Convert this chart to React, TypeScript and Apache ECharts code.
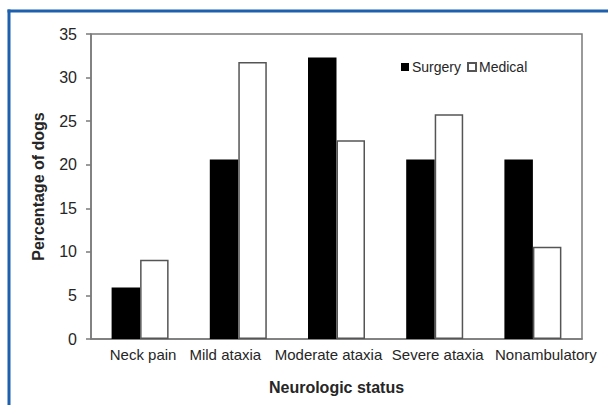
import React, { useEffect, useRef } from "react";
import * as echarts from "echarts";

const categories = ["Neck pain", "Mild ataxia", "Moderate ataxia", "Severe ataxia", "Nonambulatory"];
const surgery = [5.9, 20.6, 32.3, 20.6, 20.6];
const medical = [9.1, 31.8, 22.8, 25.8, 10.6];
const yTicks = { min: 0, max: 35, interval: 5 };

// horizontal nudge (px) of each category label, as laid out in the original
const labelShift = [3, -13, -8, 3, 13];

const FONT = "Liberation Sans, Arial, sans-serif";
const BLUE = "#1c60ae";
const GREY = "#7a7a7a";
const TEXT = "#262626";

export default function App() {
  const ref = useRef<HTMLDivElement>(null);
  useEffect(() => {
    if (!ref.current) return;
    const chart = echarts.init(ref.current, null, { renderer: "svg" });
    const rich: Record<string, any> = {};
    labelShift.forEach((s, i) => {
      rich["c" + i] = {
        fontFamily: FONT,
        fontSize: 15,
        color: TEXT,
        padding: s >= 0 ? [0, 0, 0, 2 * s] : [0, -2 * s, 0, 0],
      };
    });
    chart.setOption({
      animation: false,
      backgroundColor: "#ffffff",
      textStyle: { fontFamily: FONT },
      grid: {
        left: 91,
        right: 26,
        top: 34,
        bottom: 66,
        show: true,
        borderColor: GREY,
        borderWidth: 1.5,
        backgroundColor: "transparent",
      },
      legend: {
        left: 396,
        top: 55,
        itemWidth: 8,
        itemHeight: 8,
        itemGap: 6,
        icon: "rect",
        textStyle: { fontFamily: FONT, fontSize: 14, color: TEXT, padding: [0, 0, 0, -2] },
        data: ["Surgery", "Medical"],
      },
      xAxis: {
        type: "category",
        data: categories,
        axisLine: { show: true, lineStyle: { color: GREY, width: 1.5 } },
        axisTick: { show: false },
        axisLabel: {
          fontFamily: FONT,
          fontSize: 15,
          color: TEXT,
          margin: 8,
          interval: 0,
          formatter: (v: string, i: number) => `{c${i}|${v}}`,
          rich,
        },
        name: "Neurologic status",
        nameLocation: "middle",
        nameGap: 40,
        nameTextStyle: { fontFamily: FONT, fontSize: 16, fontWeight: "bold", color: TEXT },
      },
      yAxis: {
        type: "value",
        min: yTicks.min,
        max: yTicks.max,
        interval: yTicks.interval,
        axisLine: { show: true, lineStyle: { color: GREY, width: 1.5 } },
        axisTick: { show: true, length: 5, lineStyle: { color: GREY, width: 1.5 } },
        splitLine: { show: false },
        axisLabel: { fontFamily: FONT, fontSize: 16, color: TEXT, margin: 14 },
        name: "Percentage of dogs",
        nameLocation: "middle",
        nameRotate: 90,
        nameGap: 45,
        nameTextStyle: { fontFamily: FONT, fontSize: 16, fontWeight: "bold", color: TEXT },
      },
      series: [
        {
          name: "Surgery",
          type: "bar",
          data: surgery,
          barWidth: 28.5,
          barGap: "0%",
          itemStyle: { color: "#000000" },
        },
        {
          name: "Medical",
          type: "bar",
          data: medical,
          barWidth: 28.5,
          barGap: "0%",
          itemStyle: { color: "#ffffff", borderColor: "#555555", borderWidth: 1.5 },
        },
      ],
      graphic: [
        { type: "line", shape: { x1: 7.5, y1: 11, x2: 608, y2: 11 }, style: { stroke: BLUE, lineWidth: 3 } },
        { type: "line", shape: { x1: 9, y1: 9.5, x2: 9, y2: 405 }, style: { stroke: BLUE, lineWidth: 3 } },
      ],
    });
    return () => chart.dispose();
  }, []);
  return (
    <div
      ref={ref}
      style={{ position: "fixed", left: 0, top: 0, width: 608, height: 405 }}
    />
  );
}
